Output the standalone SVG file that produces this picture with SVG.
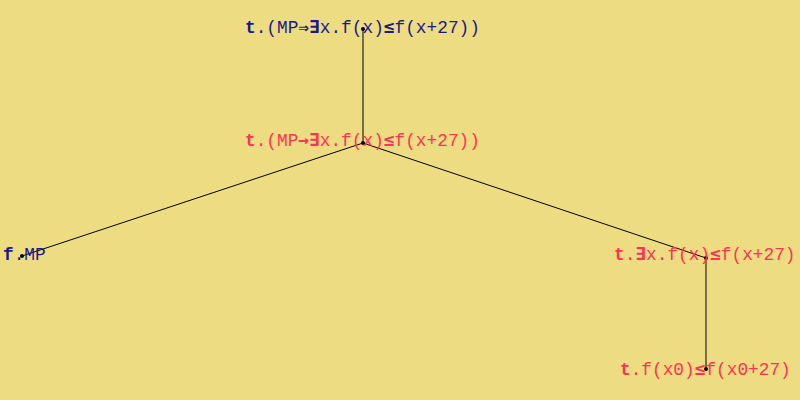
<svg xmlns="http://www.w3.org/2000/svg" width="800" height="400" viewBox="0 0 800 400">
<style>
text{font-family:"Liberation Mono","DejaVu Sans Mono",monospace;font-size:17.8px}
.b{fill:#1a1a8c}
.r{fill:#ff3355}
.k{font-weight:bold}
.s{font-family:"DejaVu Sans Mono",monospace;font-weight:bold}
#edges line{stroke:#000;stroke-width:1}
#edges circle{fill:#000}
</style>
<rect width="800" height="400" fill="#EEDC82"/>
<g id="edges">
<line x1="363" y1="29" x2="363" y2="143"/>
<line x1="363" y1="143" x2="22" y2="256"/>
<line x1="363" y1="143" x2="706" y2="258"/>
<line x1="706" y1="258" x2="706" y2="369"/>
<circle cx="363" cy="29" r="2"/>
<circle cx="363" cy="143" r="2"/>
<circle cx="22" cy="256" r="2"/>
<circle cx="706" cy="258" r="2"/>
<circle cx="706" cy="369" r="2"/>
</g>
<g id="n1"><text class="b" x="245" y="33"><tspan class="k">t</tspan>.(MP<tspan class="s">⇒∃</tspan>x.f(x)<tspan class="s">≤</tspan>f(x+27))</text></g>
<g id="n2"><text class="r" x="245" y="146"><tspan class="k">t</tspan>.(MP<tspan class="s">→∃</tspan>x.f(x)<tspan class="s">≤</tspan>f(x+27))</text></g>
<g id="n3"><text class="b" x="3" y="260"><tspan class="k">f</tspan>.MP</text></g>
<g id="n4"><text class="r" x="614" y="260"><tspan class="k">t</tspan>.<tspan class="s">∃</tspan>x.f(x)<tspan class="s">≤</tspan>f(x+27)</text></g>
<g id="n5"><text class="r" x="620" y="375"><tspan class="k">t</tspan>.f(x0)<tspan class="s">≤</tspan>f(x0+27)</text></g>
</svg>
